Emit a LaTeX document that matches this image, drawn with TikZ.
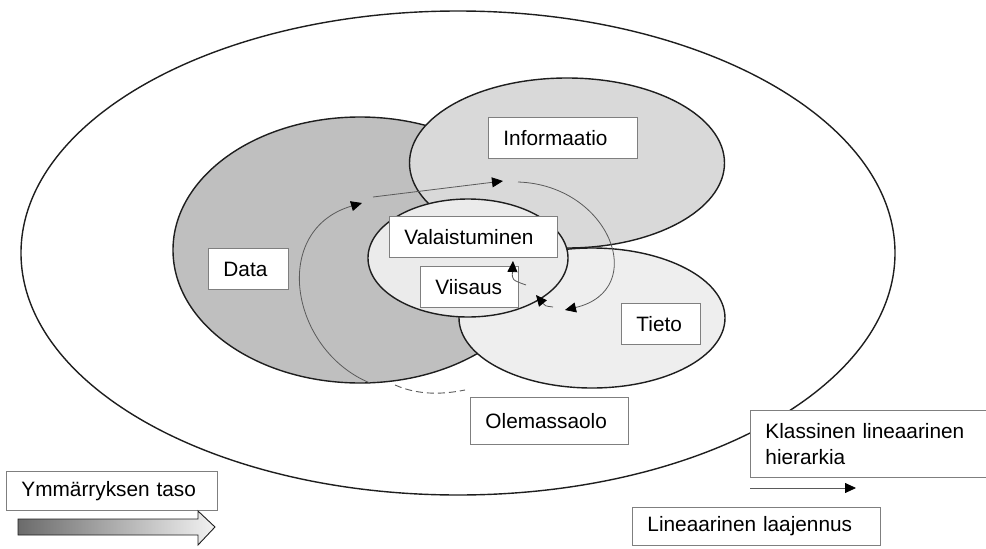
\documentclass[tikz,border=0pt]{standalone}
\usepackage{fontspec}
\setmainfont{Liberation Sans}
\usepackage{tikz}
\usetikzlibrary{shapes.geometric, arrows.meta, positioning}
\definecolor{linedark}{HTML}{1E1E1E}
\definecolor{boxgray}{HTML}{7F7F7F}
\definecolor{datafill}{HTML}{BFBFBF}
\definecolor{infofill}{HTML}{D9D9D9}
\definecolor{tietofill}{HTML}{EEEEEE}
\definecolor{valofill}{HTML}{EBEBEB}
\definecolor{flowgray}{HTML}{5A5A5A}
\definecolor{shadedark}{HTML}{6B6B6B}
\definecolor{shadelight}{HTML}{F2F2F2}
\tikzset{
  zone/.style={
    ellipse, inner sep=0pt,
    draw=linedark, line width=1.4pt,
  },
  namebox/.style={
    rectangle, anchor=north west,
    draw=boxgray, fill=white, line width=0.9pt,
    inner xsep=15pt, inner ysep=0pt,
    minimum height=41pt, text width=#1, align=left,
  },
  flow/.style={-{Triangle[length=11pt,width=10pt,black]}, draw=flowgray, line width=0.8pt},
  faint/.style={draw=flowgray, line width=0.9pt, dash pattern=on 7pt off 4pt},
}

\begin{document}
\begin{tikzpicture}[x=1pt,y=-1pt,every node/.style={font=\fontsize{20.8}{26}\selectfont}]
  \useasboundingbox (0,0) rectangle (986,549);
  % nested zones
  \node[zone,fill=white,minimum width=874pt,minimum height=484pt] (whole) at (458,253) {};
  \node[zone,fill=datafill,minimum width=374pt,minimum height=266pt] (dataell) at (360,250) {};
  \node[zone,fill=infofill,minimum width=315pt,minimum height=170pt] (infoell) at (567,163) {};
  \node[zone,fill=tietofill,minimum width=266pt,minimum height=140pt] (tietoell) at (592,318) {};
  \node[zone,fill=valofill,minimum width=200pt,minimum height=118pt] (valoell) at (468,258) {};
  % labels
  \node[namebox=119pt] (info) at (488,117) {Informaatio};
  \node[namebox=50pt] (data) at (208,248) {Data};
  \node[namebox=138pt] (valo) at (389,216) {Valaistuminen};
  \node[namebox=68pt,below right=8pt and 31pt of valo.south west] (viisaus) {Viisaus};
  \node[namebox=49pt] (tieto) at (621,303) {Tieto};
  \node[namebox=128pt,minimum height=47pt] (olemassa) at (470,397) {Olemassaolo};
  \node[namebox=208pt,minimum height=67pt] (klassinen) at (750,410) {Klassinen lineaarinen\\hierarkia};
  \node[namebox=218pt,minimum height=38pt] (laajennus) at (632,507) {Lineaarinen~laajennus};
  \node[namebox=181pt,minimum height=39pt] (taso) at (6,471) {Ymmärryksen~taso};
  % cycle of understanding
  \coordinate (d0) at (370,383);
  \coordinate (d1) at (362,203);
  \coordinate (i0) at (373,197);
  \coordinate (i1) at (503,181);
  \coordinate (t0) at (518,182);
  \coordinate (t1) at (565,310);
  \coordinate (v0) at (553,307);
  \coordinate (v1) at (536,295);
  \coordinate (w0) at (526,285);
  \coordinate (w1) at (513,261);
  \coordinate (e0) at (395,385);
  \coordinate (e1) at (465,390);
  \draw[flow] (d0) .. controls (290,350) and (270,230) .. (d1);
  \draw[flow] (i0) -- (i1);
  \draw[flow] (t0) .. controls (610,185) and (650,290) .. (t1);
  \draw[flow] (v0) .. controls (545,306) .. (v1);
  \draw[flow] (w0) .. controls (512,280) .. (w1);
  \draw[faint] (e0) .. controls (420,396) and (445,394) .. (e1);
  % linear direction
  \coordinate (h0) at (750,488);
  \coordinate (h1) at (856,488);
  \draw[flow] (h0) -- (h1);
  % level of understanding
  \shadedraw[draw=linedark, line width=0.9pt, left color=shadedark, right color=shadelight]
    (18,519) -- (198,519) -- (198,511) -- (215,527) -- (198,545) -- (198,535) -- (18,535) -- cycle;
\end{tikzpicture}
\end{document}
